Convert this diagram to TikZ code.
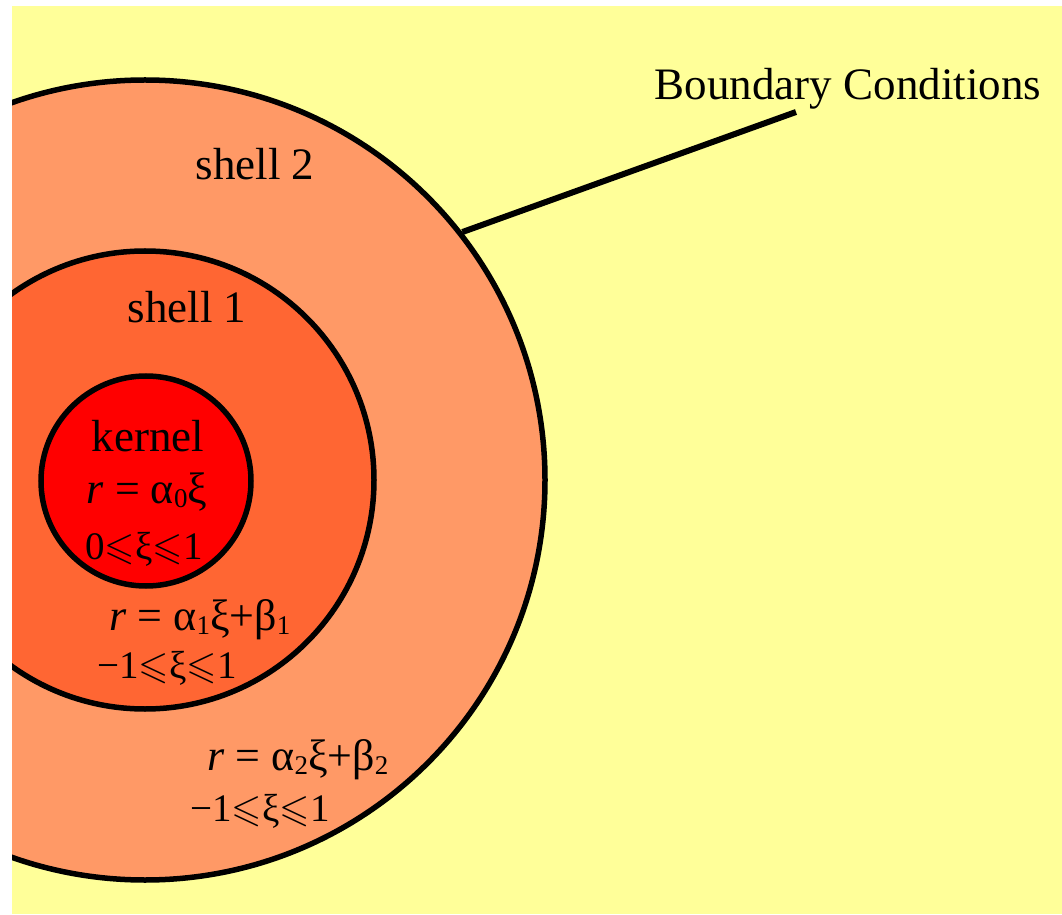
\documentclass[tikz,border=0pt]{standalone}
\usepackage{fontspec}
\usepackage{amssymb}
\setmainfont{Liberation Serif}
\definecolor{paleyellow}{RGB}{255,255,153}
\definecolor{peach}{RGB}{255,153,102}
\definecolor{tangerine}{RGB}{255,102,51}
\newcommand{\lsl}{$\leqslant$}
\newcommand{\lo}[1]{\raisebox{-0.1em}{\fontsize{27}{30}\selectfont #1}}
\tikzset{
	shell/.style={
		circle,
		draw=black,
		line width=5.5pt,
		inner sep=0pt
	},
	lbl/.style={
		anchor=base,
		inner sep=0pt,
		font=\fontsize{45}{54}\selectfont
	},
	line/.style={line width=6pt}
}

\begin{document}
\begin{tikzpicture}[x=1pt,y=1pt,
			eq/.style={lbl,font=\fontsize{44}{52}\selectfont},
			rng/.style={lbl,font=\fontsize{39}{46}\selectfont}]
		\useasboundingbox (0,0) rectangle (1062,914);
		\fill[paleyellow] (12,0) rectangle (1062,908);

		% shells, cut at the left edge
		\begin{scope}
			\clip (12,0) rectangle (1062,908);
			\node[shell,fill=peach,minimum size=800pt] (outer) at (145,434) {};
			\node[shell,fill=tangerine,minimum size=458pt] (inner) at (145,434) {};
			\node[shell,fill=red,minimum size=210pt] (kern) at (146,433) {};
		\end{scope}

		\node[lbl] (bc) at (848,814) {Boundary Conditions};
		\node[lbl] (s2) at (255,734) {shell 2};
		\node[lbl] (s1) at (187,591) {shell 1};
		\node[lbl] (kt) at (148,462) {kernel};

		\node[eq]  (e0) at (147,411) {\textit{r} = α\lo{0}ξ};
		\node[rng] (r0) at (144,355) {0\lsl ξ\lsl 1};
		\node[eq]  (e1) at (200,284) {\textit{r} = α\lo{1}ξ+β\lo{1}};
		\node[rng] (r1) at (167,236) {−1\lsl ξ\lsl 1};
		\node[eq]  (e2) at (298,144) {\textit{r} = α\lo{2}ξ+β\lo{2}};
		\node[rng] (r2) at (260,93) {−1\lsl ξ\lsl 1};

		\coordinate (bcfoot) at (796,802);
		\draw[line] (outer.38) -- (bcfoot);
	\end{tikzpicture}
\end{document}
